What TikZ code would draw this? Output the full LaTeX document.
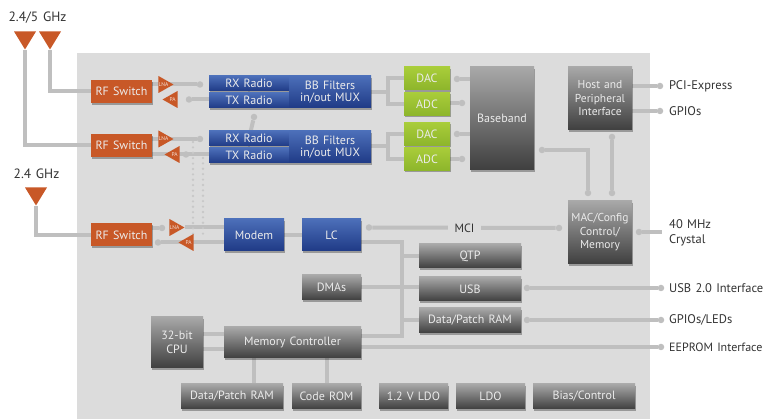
\documentclass[tikz,border=0pt]{standalone}
\usepackage{fontspec}
\setmainfont[WordSpace=1.3]{PT Sans}
\usepackage{xcolor}
\usetikzlibrary{arrows.meta,positioning,calc,backgrounds,shadows,shapes.geometric}
\definecolor{Panel}{HTML}{DCDCDC}
\definecolor{Wire}{HTML}{BFBFBF}
\definecolor{Ink}{HTML}{333333}
\definecolor{Rust}{HTML}{C85827}
\definecolor{BlueTop}{HTML}{4C6FB9}
\definecolor{BlueLow}{HTML}{1F3A86}
\definecolor{GreenTop}{HTML}{A9CD3A}
\definecolor{GreenLow}{HTML}{8DB52B}
\definecolor{GreyTop}{HTML}{A8A8A8}
\definecolor{GreyLow}{HTML}{3F3F3F}
\begin{document}
\begin{tikzpicture}[x=1pt,y=-1pt,
  wh/.style 2 args={minimum width=#1pt,minimum height=#2pt},
  block/.style={inner sep=0pt,align=center,text=white!92!black,font=\fontsize{12}{13}\selectfont,
    drop shadow={shadow xshift=0.6pt,shadow yshift=-1.6pt,opacity=.3,fill=black}},
  rfbox/.style={block,fill=Rust,wh={61}{23}},
  bluebox/.style={block,top color=BlueTop,bottom color=BlueLow},
  greenbox/.style={block,top color=GreenTop,bottom color=GreenLow,wh={46}{23}},
  greybox/.style={block,top color=GreyTop,bottom color=GreyLow},
  antenna/.style={isosceles triangle,isosceles triangle stretches,shape border rotate=-90,
    fill=Rust,inner sep=0pt,anchor=apex,wh={22}{18}},
  amp/.style={isosceles triangle,isosceles triangle stretches,fill=Rust,inner sep=0pt,anchor=apex,
    wh={17}{15},label={[text=white!80!Rust,inner sep=0pt,font=\fontsize{5.5}{5.5}\selectfont]center:#1}},
  jack/.style={circle,fill=Wire,inner sep=0pt,minimum size=6.5pt},
  wire/.style={draw=Wire,line width=4pt},
  thinwire/.style={draw=Wire,line width=2pt},
  dots/.style={draw=Wire!70!Panel,line width=2.6pt,line cap=round,dash pattern=on 0pt off 5.4pt},
  extlabel/.style={text=Ink,inner sep=0pt,align=left,anchor=west,font=\fontsize{12.5}{15}\selectfont},
  bandlabel/.style={text=Ink,inner sep=0pt,font=\fontsize{13.5}{15}\selectfont}
]
  \useasboundingbox (0,0) rectangle (764,419);
  \node[bandlabel] (band1) at (37.5,18) {2.4/5 GHz};
  \node[bandlabel] (band2) at (36.5,174) {2.4 GHz};
  \node[antenna] (ant1) at (25,50) {};
  \node[antenna] (ant2) at (50,50) {};
  \node[antenna] (ant3) at (36,206) {};

  \node[rfbox] (rf1) at (121.5,91.5) {RF Switch};
  \node[rfbox] (rf2) at (121.5,145.5) {RF Switch};
  \node[rfbox] (rf3) at (121.5,235) {RF Switch};
  \node[amp=LNA,shape border rotate=0] (lna1) at (174,84.5) {};
  \node[amp=PA,shape border rotate=180] (pa1) at (162,99.5) {};
  \node[amp=LNA,shape border rotate=0] (lna2) at (174,139) {};
  \node[amp=PA,shape border rotate=180] (pa2) at (164,154.5) {};
  \node[amp=LNA,shape border rotate=0] (lna3) at (185,227.5) {};
  \node[amp=PA,shape border rotate=180] (pa3) at (178,242.5) {};

  \node[bluebox,wh={80}{15}] (rx1) at (249,83.5) {RX Radio};
  \node[bluebox,wh={80}{15}] (tx1) at (249,100.5) {TX Radio};
  \node[bluebox,wh={82}{32},font=\fontsize{12}{12}\selectfont] (bb1) at (330,92) {BB Filters\\in/out MUX};
  \node[bluebox,wh={80}{15}] (rx2) at (249,138.5) {RX Radio};
  \node[bluebox,wh={80}{15}] (tx2) at (249,155.5) {TX Radio};
  \node[bluebox,wh={82}{32},font=\fontsize{12}{12}\selectfont] (bb2) at (330,147) {BB Filters\\in/out MUX};
  \node[bluebox,wh={60}{32}] (modem) at (254,235) {Modem};
  \node[bluebox,wh={59}{32}] (lc) at (331.5,235) {LC};

  \node[greenbox] (dac1) at (427,78.5) {DAC};
  \node[greenbox] (adc1) at (427,104) {ADC};
  \node[greenbox] (dac2) at (427,134) {DAC};
  \node[greenbox] (adc2) at (427,159) {ADC};

  \node[greybox,wh={64}{103}] (baseband) at (502,118.5) {Baseband};
  \node[greybox,wh={64}{63},font=\fontsize{11.5}{13.5}\selectfont] (host) at (600,98.5) {Host and\\Peripheral\\Interface};
  \node[greybox,wh={64}{63},font=\fontsize{11.5}{13.5}\selectfont] (mac) at (600,232.5) {MAC/Config\\Control/\\Memory};
  \node[greybox,wh={102}{24}] (qtp) at (470,256) {QTP};
  \node[greybox,wh={102}{24}] (usb) at (470,289) {USB};
  \node[greybox,wh={102}{25}] (dpram) at (470,320.5) {Data/Patch RAM};
  \node[greybox,wh={59}{25}] (dmas) at (331.5,287.5) {DMAs};
  \node[greybox,wh={52}{51},font=\fontsize{12}{13.5}\selectfont] (cpu) at (177,342.5) {32-bit\\CPU};
  \node[greybox,wh={137}{31}] (memctl) at (292.5,342.5) {Memory Controller};
  \node[greybox,wh={102}{25}] (ram) at (232,396.5) {Data/Patch RAM};
  \node[greybox,wh={69}{25}] (rom) at (326.5,396.5) {Code ROM};
  \node[greybox,wh={69}{25}] (ldo1) at (413.5,396.5) {1.2 V LDO};
  \node[greybox,wh={69}{25}] (ldo2) at (490.5,396.5) {LDO};
  \node[greybox,wh={102}{25}] (bias) at (584,396.5) {Bias/Control};

  \node[jack] (jlna1) at (200,84.5) {};
  \node[jack] (jpa1) at (189,99.5) {};
  \node[jack] (jlna2) at (200,139) {};
  \node[jack] (jpa2) at (186,154.5) {};
  \node[jack] (jlna3) at (162,228) {};
  \node[jack] (jpa3) at (158,242.5) {};
  \node[jack] (jradio) at (254,117) {};
  \node[jack] (jdac1) at (457,79) {};
  \node[jack] (jadc1) at (462,103) {};
  \node[jack] (jdac2) at (457,134) {};
  \node[jack] (jadc2) at (462,159) {};
  \node[jack] (jbase) at (542,150) {};
  \node[jack] (jmac1) at (588,193) {};
  \node[jack] (jmac2) at (612,193) {};
  \node[jack] (jhost) at (612,137) {};
  \node[jack] (jlc) at (369,227.5) {};
  \node[jack] (jmci) at (559,228) {};
  \node[jack] (jxtal) at (639,232) {};
  \node[jack] (jusb) at (527,288) {};
  \node[jack] (jgpl) at (527,320) {};
  \node[jack] (jpci) at (660,86) {};
  \node[jack] (jgpio) at (660,111) {};
  \node[jack] (jusbo) at (661,288) {};
  \node[jack] (jgplo) at (661,320) {};
  \node[jack] (jeep) at (661,347) {};
  \coordinate (xtalend) at (662,232);
  \coordinate (dot1a) at (193,142);
  \coordinate (dot1b) at (193,236);
  \coordinate (dot2a) at (203,158);
  \coordinate (dot2b) at (203,236);
  \coordinate (busa) at (402,242);
  \coordinate (busb) at (402,336);
  \coordinate (fork1) at (388,92);
  \coordinate (fork2) at (388,146);

  \node[text=Ink,fill=Panel,inner sep=0pt,wh={33}{13},font=\fontsize{12}{13}\selectfont] (mci) at (464.5,228) {MCI};
  \node[extlabel] (pci) at (669,86) {PCI-Express};
  \node[extlabel] (gpios) at (669,111) {GPIOs};
  \node[extlabel] (xtal) at (669,232.5) {40 MHz\\Crystal};
  \node[extlabel] (usbout) at (669,288) {USB 2.0 Interface};
  \node[extlabel] (gplout) at (669,320) {GPIOs/LEDs};
  \node[extlabel,font=\fontsize{12}{15}\selectfont] (eepout) at (669,347) {EEPROM Interface};

  \begin{scope}[on background layer]
    \fill[Panel] (77,53) rectangle (650,419);
    \draw[wire] (ant1) |- (rf2);
    \draw[wire] (ant2) |- (rf1);
    \draw[wire] (ant3) |- (rf3);
    \draw[wire] (rf1 |- jlna1) -- (jlna1);
    \draw[wire] (jpa1) -- (tx1 |- jpa1);
    \draw[wire] (rf2 |- jlna2) -- (jlna2);
    \draw[wire] (rf2 |- jpa2) -- (tx2 |- jpa2);
    \draw[wire] (rf3 |- jlna3) -- (jlna3);
    \draw[wire] (lna3) -- (modem.west |- lna3);
    \draw[wire] (jpa3) -- (modem.west |- jpa3);
    \draw[dots] (dot1a) -- (dot1b);
    \draw[dots] (dot2a) -- (dot2b);
    \draw[thinwire] (rx1.south) -- (tx1.north);
    \draw[thinwire] (rx2.south) -- (tx2.north);
    \draw[wire] (jradio) -- (rx2);
    \draw[wire] (modem) -- (lc);
    \draw[wire] (bb1.east |- fork1) -- (fork1);
    \draw[wire] (bb2.east |- fork2) -- (fork2);
    \draw[wire] (dac1) -| (fork1) |- (adc1);
    \draw[wire] (dac2) -| (fork2) |- (adc2);
    \draw[wire] (jdac1) -- (baseband.west |- jdac1);
    \draw[wire] (jadc1) -- (adc1.east |- jadc1);
    \draw[wire] (jdac2) -- (baseband.west |- jdac2);
    \draw[wire] (jadc2) -- (adc2.east |- jadc2);
    \draw[wire] (jbase) -| (jmac1);
    \draw[wire] (jhost) -- (jmac2);
    \draw[wire] (host.east |- jpci) -- (jpci);
    \draw[wire] (host.east |- jgpio) -- (jgpio);
    \draw[wire] (jlc) -- (jmci);
    \draw[wire] (jxtal) -- (xtalend);
    \draw[wire] (lc.east |- busa) -| (busb) -- (memctl.east |- busb);
    \draw[wire] (busa |- qtp) -- (qtp);
    \draw[wire] (dmas) -- (usb.west |- dmas);
    \draw[wire] (busa |- dpram) -- (dpram);
    \draw[wire] (jusb) -- (jusbo);
    \draw[wire] (jgpl) -- (jgplo);
    \draw[wire] (memctl.east |- jeep) -- (jeep);
    \draw[wire] (cpu.east |- 0,334) -- (memctl.west |- 0,334);
    \draw[wire] (cpu.east |- 0,349) -- (memctl.west |- 0,349);
    \draw[wire] ($(memctl.south)+(-38.5,0)$) -- ($(ram.north)+(22,0)$);
    \draw[wire] (memctl.south -| rom) -- (rom);
  \end{scope}
\end{tikzpicture}
\end{document}
